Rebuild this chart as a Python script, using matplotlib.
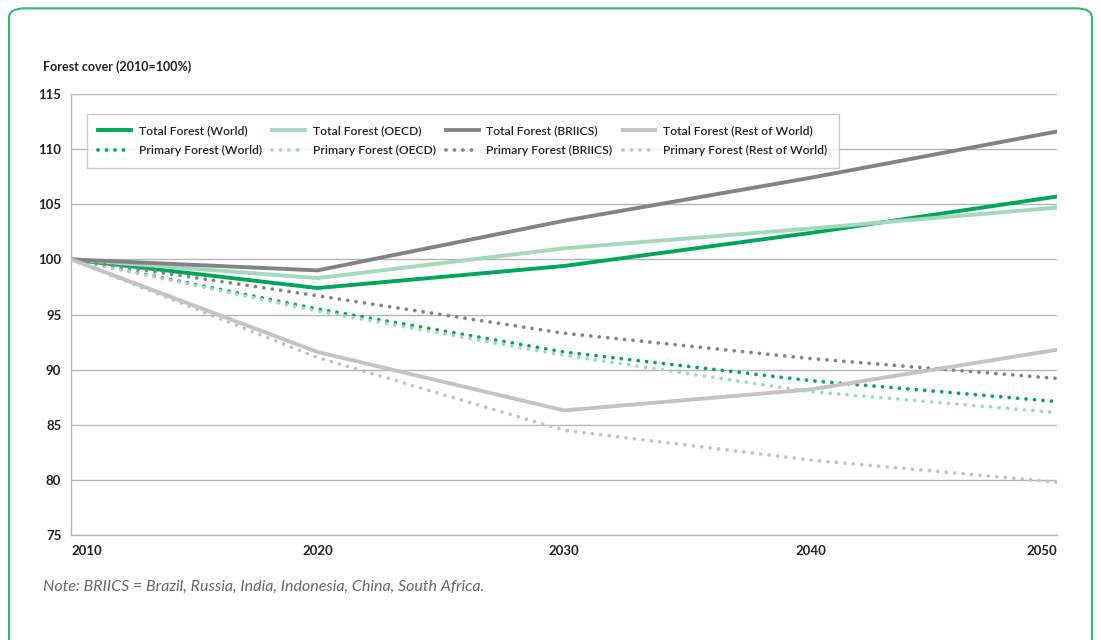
import matplotlib
matplotlib.use("Agg")
import matplotlib.pyplot as plt
from matplotlib.patches import FancyBboxPatch

# ---------------- data ----------------
years = [2010, 2020, 2030, 2040, 2050]

total_world = [100, 97.4, 99.4, 102.4, 105.7]
total_oecd = [100, 98.3, 101.0, 102.8, 104.7]
total_briics = [100, 99.0, 103.5, 107.4, 111.6]
total_row = [100, 91.6, 86.3, 88.2, 91.8]

primary_world = [100, 95.5, 91.6, 89.0, 87.1]
primary_oecd = [100, 95.3, 91.3, 88.0, 86.1]
primary_briics = [100, 96.7, 93.3, 91.0, 89.2]
primary_row = [100, 91.1, 84.5, 81.8, 79.8]

regions = ["World", "OECD", "BRIICS", "Rest of World"]
yticks = [75, 80, 85, 90, 95, 100, 105, 110, 115]

# ---------------- style ----------------
plt.rcParams['font.family'] = ['Lato', 'DejaVu Sans']
colors = ["#00a65a", "#a3d9bb", "#838387", "#c3c3c7"]
txt = "#222222"
grid_c = "#b4b4b8"

fig = plt.figure(figsize=(11.01, 6.4), dpi=100)
ax = fig.add_axes([71 / 1101, 1 - 535 / 640, 986 / 1101, 441 / 640])

# rounded green frame around the whole panel
frame = FancyBboxPatch((9 / 1101, -0.05), 1083 / 1101, 1.037,
                       boxstyle="round,pad=0,rounding_size=0.015",
                       transform=fig.transFigure, fill=False,
                       edgecolor="#2fb878", linewidth=1.5, zorder=0)
fig.patches.append(frame)

totals = [total_world, total_oecd, total_briics, total_row]
primaries = [primary_world, primary_oecd, primary_briics, primary_row]

handles = []
for reg, tot, prim, c in zip(regions, totals, primaries, colors):
    h1, = ax.plot(years, tot, color=c, lw=2.8, solid_joinstyle="miter",
                  label=f"Total Forest ({reg})", zorder=3)
    h2, = ax.plot(years, prim, color=c, lw=2.7, linestyle=(0, (0.01, 2.25)),
                  dash_capstyle="round", label=f"Primary Forest ({reg})", zorder=3)
    handles += [h1, h2]

ax.set_xlim(2010, 2050)
ax.set_ylim(75, 115)
ax.set_yticks(yticks)
ax.set_xticks(years)
ax.grid(axis="y", color=grid_c, lw=1)
ax.set_axisbelow(True)
for s in ["top", "right"]:
    ax.spines[s].set_visible(False)
for s in ["left", "bottom"]:
    ax.spines[s].set_color(grid_c)
    ax.spines[s].set_linewidth(1)
ax.tick_params(length=0, labelsize=9.5, colors=txt, pad=7)
for lab in ax.get_yticklabels():
    lab.set_fontweight("bold")
xl = ax.get_xticklabels()
for i, lab in enumerate(xl):
    lab.set_fontweight("bold")
    if i == 0:
        lab.set_horizontalalignment("left")
    elif i == len(xl) - 1:
        lab.set_horizontalalignment("right")

leg = ax.legend(handles=handles, ncol=4, loc="upper left",
                bbox_to_anchor=(0.016, 0.955), borderaxespad=0,
                fontsize=8.7, frameon=True, fancybox=False,
                edgecolor="#bdbdbd", handlelength=2.7, handletextpad=0.65,
                columnspacing=0.85, labelspacing=0.72, borderpad=0.95)
leg.get_frame().set_linewidth(1)
for t in leg.get_texts():
    t.set_color(txt)
    t.set_fontweight("semibold")

fig.text(43 / 1101, 1 - 67 / 640, "Forest cover (2010=100%)", fontsize=9,
         fontweight="bold", color=txt, va="center", ha="left")
fig.text(43 / 1101, 1 - 587 / 640,
         "Note: BRIICS = Brazil, Russia, India, Indonesia, China, South Africa.",
         fontsize=11.5, style="italic", color="#666666", va="center", ha="left")

fig.savefig("out.png", dpi=100)
